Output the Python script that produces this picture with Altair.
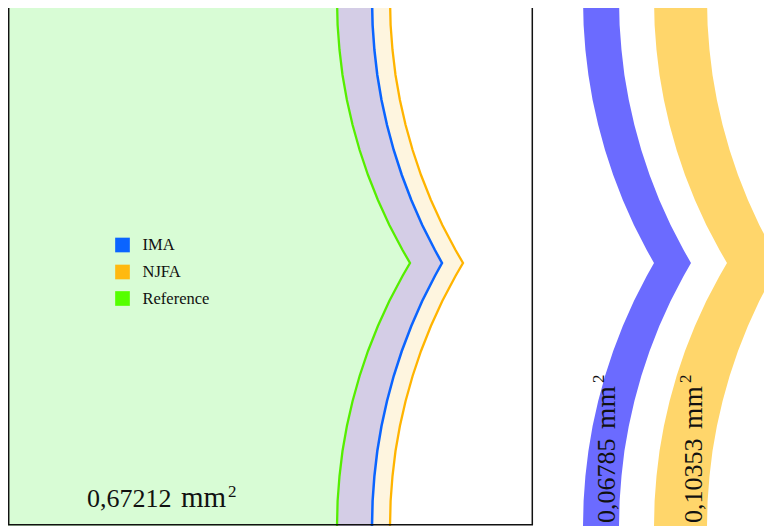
import altair as alt
import pandas as pd

# Vertical sample positions (px from top of the figure)
y_pos = [0, 25, 50, 75, 100, 125, 150, 175, 200, 225, 250, 263,
         276, 301, 326, 351, 376, 401, 426, 451, 476, 501, 526]

# Contours (horizontal positions)
ref_x = [337, 337.6, 339.5, 342.5, 346.9, 352.6, 359.6, 368.0, 377.9, 389.3, 402.5, 410.0,
         402.5, 389.3, 377.9, 368.0, 359.6, 352.6, 346.9, 342.5, 339.5, 337.6, 337]
ima_x = [372, 372.6, 374.4, 377.3, 381.5, 387.0, 393.7, 401.8, 411.3, 422.2, 434.9, 442.0,
         434.9, 422.2, 411.3, 401.8, 393.7, 387.0, 381.5, 377.3, 374.4, 372.6, 372]
njfa_x = [390, 390.6, 392.5, 395.5, 399.9, 405.6, 412.6, 421.0, 430.9, 442.3, 455.5, 463.0,
          455.5, 442.3, 430.9, 421.0, 412.6, 405.6, 399.9, 395.5, 392.5, 390.6, 390]

# Difference bands on the right
ima_band_l = [583, 583.6, 585.4, 588.4, 592.6, 598.2, 605.0, 613.2, 622.8, 633.9, 646.7, 654.0,
              646.7, 633.9, 622.8, 613.2, 605.0, 598.2, 592.6, 588.4, 585.4, 583.6, 583]
ima_band_r = [619, 619.6, 621.5, 624.4, 628.8, 634.4, 641.3, 649.6, 659.3, 670.6, 683.6, 691.0,
              683.6, 670.6, 659.3, 649.6, 641.3, 634.4, 628.8, 624.4, 621.5, 619.6, 619]
njfa_band_l = [654, 654.6, 656.5, 659.5, 663.9, 669.6, 676.6, 685.0, 694.9, 706.3, 719.5, 727.0,
               719.5, 706.3, 694.9, 685.0, 676.6, 669.6, 663.9, 659.5, 656.5, 654.6, 654]
njfa_band_r = [707, 707.6, 709.5, 712.5, 716.9, 722.6, 729.6, 738.0, 747.9, 759.3, 772.5, 780.0,
               772.5, 759.3, 747.9, 738.0, 729.6, 722.6, 716.9, 712.5, 709.5, 707.6, 707]

series = ["IMA", "NJFA", "Reference"]
series_colors = ["#0a64ff", "#ffb90f", "#55ff00"]

area_values = ["0,67212", "0,06785", "0,10353"]
area_unit = "mm"
area_exp = "2"

df = pd.DataFrame({
    "y": y_pos, "ref": ref_x, "ima": ima_x, "njfa": njfa_x,
    "ibl": ima_band_l, "ibr": ima_band_r, "nbl": njfa_band_l, "nbr": njfa_band_r,
})
df["left"] = 8
leg = pd.DataFrame({"name": series, "color": series_colors,
                    "ly": [245, 272, 298.5], "sx": 122.5, "tx": 142.5})
frame_df = pd.DataFrame({"x1": [8.7], "x2": [532.3], "y1": [0], "y2": [524.8]})

# text pieces: value, unit, superscript (layout table)
h_num = pd.DataFrame({"t": [area_values[0]], "x": [87], "y": [507]})
h_unit = pd.DataFrame({"t": [area_unit], "x": [181], "y": [507]})
h_exp = pd.DataFrame({"t": [area_exp], "x": [228], "y": [497]})
v_num = pd.DataFrame({"t": area_values[1:], "x": [615, 702], "y": [523, 523]})
v_unit = pd.DataFrame({"t": [area_unit] * 2, "x": [615, 702], "y": [429, 429]})
v_exp = pd.DataFrame({"t": [area_exp] * 2, "x": [604, 691], "y": [383, 383]})

FONT = "Liberation Serif"
xs = alt.Scale(domain=[8, 764], nice=False, zero=False)
ys = alt.Scale(domain=[8, 529], nice=False, zero=False, reverse=True)


def X(f):
    return alt.X(f, type="quantitative", scale=xs, axis=None)


def Y(f):
    return alt.Y(f, type="quantitative", scale=ys, axis=None)


base = alt.Chart(df)


def band(l, r, color):
    return base.mark_area(orient="horizontal", color=color, clip=True).encode(
        y=Y("y"), x=X(l), x2=alt.X2(r))


fill_ref = band("left", "ref", "#d8fcd5")
fill_ima = band("ref", "ima", "#d4cde6")
fill_njfa = band("ima", "njfa", "#fef5df")
band_ima = band("ibl", "ibr", "#6b6bff")
band_njfa = band("nbl", "nbr", "#ffd66b")


def line(field, color, w):
    return base.mark_line(color=color, strokeWidth=w, clip=True).encode(
        x=X(field), y=Y("y"), order=alt.Order("y:Q"))


line_ref = line("ref", "#55ee00", 2.3)
line_ima = line("ima", "#0a64ff", 2.5)
line_njfa = line("njfa", "#ffb400", 2.3)

frame = alt.Chart(frame_df).mark_rect(
    fill=None, stroke="#111", strokeWidth=1.5).encode(
    x=X("x1"), x2=alt.X2("x2"), y=Y("y1"), y2=alt.Y2("y2"))

leg_sq = alt.Chart(leg).mark_square(size=215, opacity=1).encode(
    x=X("sx"), y=Y("ly"), color=alt.Color("color:N", scale=None))
leg_tx = alt.Chart(leg).mark_text(align="left", baseline="middle", font=FONT,
                                  fontSize=16.5, color="#111").encode(
    x=X("tx"), y=Y("ly"), text="name:N")


def txt(d, size, angle=0):
    kw = dict(align="left", baseline="alphabetic", font=FONT, fontSize=size, color="#111")
    if angle:
        kw["angle"] = angle
    return alt.Chart(d).mark_text(**kw).encode(x=X("x"), y=Y("y"), text="t:N")


texts = [
    txt(h_num, 26), txt(h_unit, 29), txt(h_exp, 17),
    txt(v_num, 26, 270), txt(v_unit, 27.5, 270), txt(v_exp, 17, 270),
]

chart = alt.layer(
    fill_ref, fill_ima, fill_njfa, band_ima, band_njfa,
    line_ref, line_ima, line_njfa, frame, leg_sq, leg_tx, *texts
).properties(
    width=756, height=521, padding=0,
    autosize=alt.AutoSizeParams(type="none"),
    background="white",
).configure_view(stroke=None)

chart.save("out.html", embed_options={"renderer": "svg", "actions": False})
